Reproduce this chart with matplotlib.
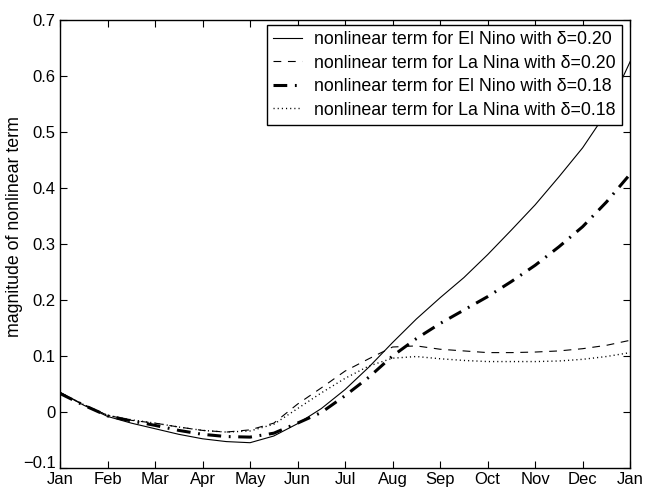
import matplotlib
matplotlib.use("Agg")
import matplotlib.pyplot as plt
import matplotlib.transforms as mtransforms
import numpy as np

plt.rcParams['font.family'] = ['Liberation Sans', 'DejaVu Sans']

# time axis in months since January (half-month samples)
months = [0.0, 0.5, 1.0, 1.5, 2.0, 2.5, 3.0, 3.5, 4.0, 4.5, 5.0, 5.5, 6.0,
          6.5, 7.0, 7.5, 8.0, 8.5, 9.0, 9.5, 10.0, 10.5, 11.0, 11.5, 12.0]

el_nino_020 = [0.035, 0.012, -0.008, -0.020, -0.030, -0.040, -0.048, -0.053, -0.055,
               -0.043, -0.021, 0.006, 0.040, 0.080, 0.124, 0.166, 0.204, 0.240,
               0.281, 0.325, 0.370, 0.420, 0.472, 0.535, 0.626]
la_nina_020 = [0.035, 0.013, -0.006, -0.015, -0.020, -0.027, -0.033, -0.036, -0.032,
               -0.020, 0.014, 0.043, 0.073, 0.095, 0.116, 0.118, 0.112, 0.109,
               0.106, 0.106, 0.107, 0.109, 0.113, 0.119, 0.128]
el_nino_018 = [0.033, 0.012, -0.007, -0.016, -0.024, -0.033, -0.040, -0.044, -0.045,
               -0.038, -0.020, -0.001, 0.029, 0.062, 0.100, 0.131, 0.158, 0.182,
               0.206, 0.233, 0.262, 0.295, 0.331, 0.375, 0.425]
la_nina_018 = [0.034, 0.013, -0.006, -0.014, -0.020, -0.027, -0.033, -0.036, -0.034,
               -0.022, 0.006, 0.034, 0.060, 0.082, 0.096, 0.099, 0.095, 0.092,
               0.090, 0.090, 0.090, 0.091, 0.094, 0.099, 0.106]

month_labels = ['Jan', 'Feb', 'Mar', 'Apr', 'May', 'Jun', 'Jul',
                'Aug', 'Sep', 'Oct', 'Nov', 'Dec', 'Jan']
y_ticks = [-0.1, 0, 0.1, 0.2, 0.3, 0.4, 0.5, 0.6, 0.7]
y_tick_labels = ['−0.1', '0', '0.1', '0.2', '0.3', '0.4', '0.5', '0.6', '0.7']

fig = plt.figure(figsize=(6.45, 4.92), dpi=100)
ax = fig.add_axes([0.093, 0.049, 0.884, 0.910])

ax.plot(months, el_nino_020, color='black', lw=0.8, linestyle='-',
        label='nonlinear term for El Nino with δ=0.20')
ax.plot(months, la_nina_020, color='black', lw=0.8, linestyle=(0, (7, 6)),
        label='nonlinear term for La Nina with δ=0.20')
ax.plot(months, el_nino_018, color='black', lw=2.2, linestyle=(0, (4.5, 2.5, 0.6, 2.5)),
        label='nonlinear term for El Nino with δ=0.18')
ax.plot(months, la_nina_018, color='black', lw=1.0, linestyle=(0, (0.8, 2.2)),
        label='nonlinear term for La Nina with δ=0.18')

ax.set_xlim(0, 12)
ax.set_ylim(-0.1, 0.7)
ax.set_xticks(range(13))
ax.set_xticklabels(month_labels)
ax.set_yticks(y_ticks)
ax.set_yticklabels(y_tick_labels)
ax.tick_params(direction='in', top=True, right=True, length=5, width=0.8,
               labelsize=12)
ax.tick_params(axis='x', pad=3)
ax.tick_params(axis='y', pad=3)
for s in ax.spines.values():
    s.set_linewidth(1.0)

# lift the lowest y label a little so it clears the first month label
lowest = ax.get_yticklabels()[0]
lowest.set_transform(lowest.get_transform() +
                     mtransforms.ScaledTranslation(0, 4 / 72, fig.dpi_scale_trans))

ax.set_ylabel('magnitude of nonlinear term', fontsize=12.8)
ax.yaxis.set_label_coords(-0.064, 0.54)

leg = ax.legend(loc='upper right', bbox_to_anchor=(0.986, 0.989),
                borderaxespad=0, fontsize=12.8, frameon=True, fancybox=False,
                edgecolor='black', framealpha=1, handlelength=1.6,
                handletextpad=0.7, labelspacing=0.36, borderpad=0.35)
leg.get_frame().set_linewidth(1.0)

fig.savefig('out.png', dpi=100)
